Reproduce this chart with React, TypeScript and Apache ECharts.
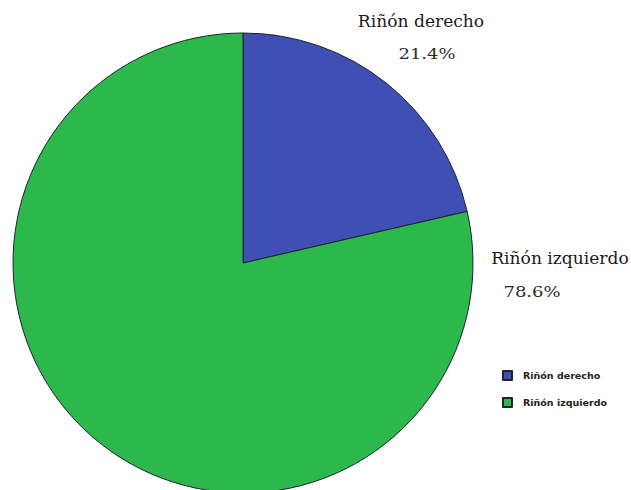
import React, { useEffect, useRef } from "react";
import * as echarts from "echarts";

const categories = ["Riñón derecho", "Riñón izquierdo"];
const values = [21.4, 78.6];
const colors = ["#3f4fb3", "#2db84b"];

export default function App() {
  const ref = useRef<HTMLDivElement>(null);
  useEffect(() => {
    const chart = echarts.init(ref.current!, null, { renderer: "svg" });
    const labelPos = [
      { x: 421, y: 22, x2: 427, y2: 54 },
      { x: 560, y: 259, x2: 532, y2: 292 },
    ];
    const graphic: any[] = [];
    categories.forEach((c, i) => {
      const p = labelPos[i];
      graphic.push({
        type: "text",
        x: p.x,
        y: p.y,
        scaleX: 1.07,
        style: {
          text: c,
          fontFamily: "DejaVu Serif",
          fontSize: 16,
          fill: "#1a1a1a",
          align: "center",
          verticalAlign: "middle",
        },
      });
      graphic.push({
        type: "text",
        x: p.x2,
        y: p.y2,
        scaleX: 1.2,
        style: {
          text: values[i].toFixed(1) + "%",
          fontFamily: "DejaVu Serif",
          fontSize: 15,
          fill: "#2a2a2a",
          align: "center",
          verticalAlign: "middle",
        },
      });
    });
    chart.setOption({
      animation: false,
      backgroundColor: "#ffffff",
      graphic,
      legend: {
        orient: "vertical",
        left: 497,
        top: 365,
        itemWidth: 9,
        itemHeight: 9,
        itemGap: 16,
        icon: "rect",
        data: categories,
        textStyle: {
          fontSize: 9.5,
          fontWeight: "bold",
          color: "#222",
          fontFamily: "DejaVu Sans",
          padding: [0, 0, 0, 6],
        },
      },
      series: [
        {
          type: "pie",
          center: [243, 263],
          radius: [0, 230],
          startAngle: 90,
          clockwise: true,
          silent: true,
          itemStyle: { borderColor: "#1b2530", borderWidth: 1 },
          label: { show: false },
          labelLine: { show: false },
          data: categories.map((c, i) => ({
            name: c,
            value: values[i],
            itemStyle: { color: colors[i] },
          })),
        },
      ],
    });
    return () => chart.dispose();
  }, []);
  return (
    <div
      ref={ref}
      style={{ position: "absolute", left: 0, top: 0, width: 631, height: 490 }}
    />
  );
}
